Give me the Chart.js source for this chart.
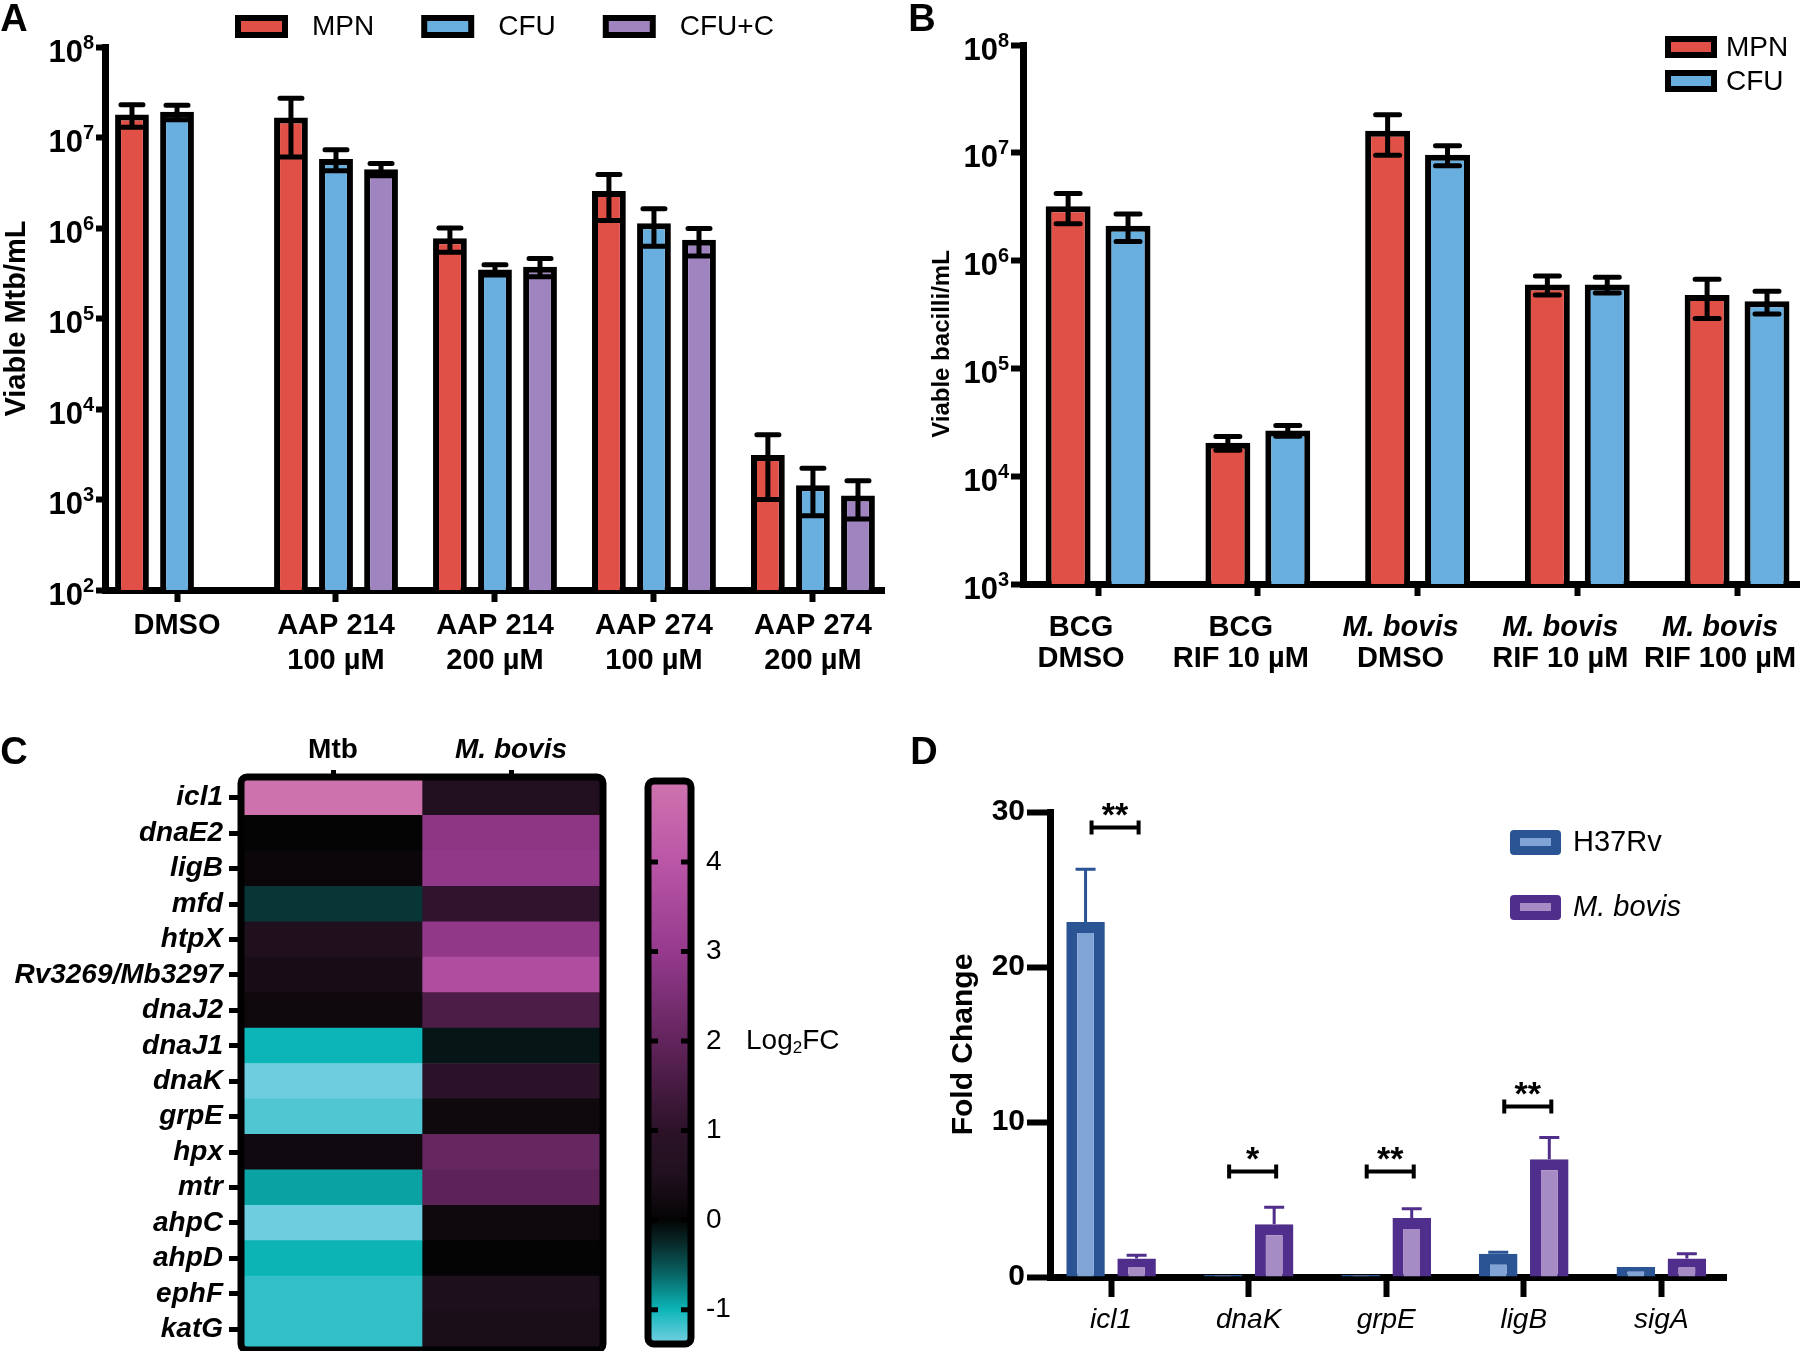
<!DOCTYPE html>
<html>
<head>
<meta charset="utf-8">
<title>Viable bacilli and stress gene expression</title>
<script src="https://cdn.jsdelivr.net/npm/chart.js@4.4.1/dist/chart.umd.min.js"></script>
<style>
  html, body { margin: 0; padding: 0; background: #fff; }
  body { position: relative; width: 1800px; height: 1351px; overflow: hidden; }
  canvas { position: absolute; }
</style>
</head>
<body>
<canvas id="panelA" width="900" height="700" style="left:0;top:0"></canvas>
<canvas id="panelB" width="900" height="700" style="left:900px;top:0"></canvas>
<canvas id="panelC" width="640" height="651" style="left:0;top:700px"></canvas>
<canvas id="panelCbar" width="260" height="651" style="left:640px;top:700px"></canvas>
<canvas id="panelD" width="900" height="651" style="left:900px;top:700px"></canvas>
<script>
const FAMILY = '"Liberation Sans", Arial, Helvetica, sans-serif';

// A: viable Mtb after AAP treatment (log scale)
const aGroups = [['DMSO'], ['AAP 214', '100 µM'], ['AAP 214', '200 µM'], ['AAP 274', '100 µM'], ['AAP 274', '200 µM']];
const aSeries = ['MPN', 'CFU', 'CFU+C'];
const aMPN = [1.8e7, 1.66e7, 7.7e5, 2.56e6, 3.1e3];
const aMPNErr = [5e6, 1.05e7, 2.3e5, 1.35e6, 2.1e3];
const aCFU = [1.92e7, 5.8e6, 3.47e5, 1.13e6, 1.44e3];
const aCFUErr = [3.5e6, 1.5e6, 4.5e4, 5e5, 7.8e2];
const aCFUC = [null, 4.47e6, 3.74e5, 7.4e5, 1.11e3];
const aCFUCErr = [null, 7e5, 8.5e4, 2.5e5, 5e2];
const aTicks = [1e2, 1e3, 1e4, 1e5, 1e6, 1e7, 1e8];

// B: BCG and M. bovis with rifampicin
const bGroups = [['BCG', 'DMSO'], ['BCG', 'RIF 10 µM'], ['M. bovis', 'DMSO'], ['M. bovis', 'RIF 10 µM'], ['M. bovis', 'RIF 100 µM']];
const bSeries = ['MPN', 'CFU'];
const bMPN = [3.2e6, 2.04e4, 1.6e7, 6.0e5, 4.8e5];
const bMPNErr = [1.0e6, 3e3, 6.5e6, 1.2e5, 1.9e5];
const bCFU = [2.1e6, 2.65e4, 9.6e6, 6.0e5, 4.2e5];
const bCFUErr = [6e5, 3e3, 2e6, 1.0e5, 1.0e5];
const bTicks = [1e3, 1e4, 1e5, 1e6, 1e7, 1e8];

// C: heatmap of log2 fold change
const genes = ['icl1', 'dnaE2', 'ligB', 'mfd', 'htpX', 'Rv3269/Mb3297', 'dnaJ2', 'dnaJ1',
               'dnaK', 'grpE', 'hpx', 'mtr', 'ahpC', 'ahpD', 'ephF', 'katG'];
const heatColumns = ['Mtb', 'M. bovis'];
const mtbLog2FC = [4.87, 0.0, 0.1, -0.33, 0.5, 0.35, 0.2, -1.0, -1.35, -1.24, 0.22, -0.9, -1.35, -0.99, -1.14, -1.14];
const bovisLog2FC = [0.58, 2.8, 2.9, 1.07, 2.9, 3.7, 1.6, -0.12, 1.0, 0.2, 2.08, 1.9, 0.2, 0.0, 0.45, 0.4];
const colorTicks = [-1, 0, 1, 2, 3, 4];
const colorStops = [-1.35, -1.0, -0.6, -0.25, 0, 0.5, 1, 2, 3, 4, 4.87];
const colorRamp = ['#6ecdde', '#0cb6b8', '#086464', '#082828', '#040404', '#20101e',
                   '#2c1228', '#62245c', '#963a8e', '#ba56a6', '#ce72ae'];

// D: qPCR fold change
const dGenes = ['icl1', 'dnaK', 'grpE', 'ligB', 'sigA'];
const dSeries = ['H37Rv', 'M. bovis'];
const dH37Rv = [22.9, 0.15, 0.15, 1.5, 0.65];
const dH37RvErr = [3.4, 0, 0, 0.1, 0];
const dBovis = [1.2, 3.4, 3.8, 7.6, 1.2];
const dBovisErr = [0.2, 1.1, 0.6, 1.4, 0.3];
const dSigGene = ['icl1', 'dnaK', 'grpE', 'ligB'];
const dSigLevel = [29.0, 6.8, 6.8, 11.0];
const dSigMark = ['**', '*', '**', '**'];

Chart.defaults.font.family = FAMILY;
Chart.defaults.color = '#000';

const RED = '#e05046', BLUE = '#68aede', PURPLE = '#a084c0';

function font(size, weight, style) {
  return (style || 'normal') + ' ' + (weight || 'normal') + ' ' + size + 'px ' + FAMILY;
}
function isSpecies(s) { return s.indexOf('M. ') === 0; }

function hexRgb(h) { return [1, 3, 5].map(k => parseInt(h.slice(k, k + 2), 16)); }
function colorFor(v) {
  if (v <= colorStops[0]) return colorRamp[0];
  for (let k = 1; k < colorStops.length; k++) {
    if (v <= colorStops[k]) {
      const t = (v - colorStops[k - 1]) / (colorStops[k] - colorStops[k - 1]);
      const a = hexRgb(colorRamp[k - 1]), b = hexRgb(colorRamp[k]);
      return 'rgb(' + a.map((c, j) => Math.round(c + (b[j] - c) * t)).join(',') + ')';
    }
  }
  return colorRamp[colorRamp.length - 1];
}

// error bars from dataset.errors
const errorBars = {
  id: 'errorBars',
  afterDatasetsDraw(chart, args, opts) {
    const { ctx } = chart;
    const y = chart.scales.y;
    chart.data.datasets.forEach((ds, di) => {
      const meta = chart.getDatasetMeta(di);
      if (!ds.errors) return;
      meta.data.forEach((bar, i) => {
        const v = ds.data[i], e = ds.errors[i];
        if (v == null || !e) return;
        const top = y.getPixelForValue(v + e);
        const bottom = y.getPixelForValue(opts.upOnly ? v : v - e);
        ctx.save();
        ctx.strokeStyle = opts.color || ds.borderColor;
        ctx.lineWidth = opts.width;
        ctx.lineCap = opts.round ? 'round' : 'butt';
        ctx.beginPath();
        ctx.moveTo(bar.x, top); ctx.lineTo(bar.x, bottom);
        ctx.moveTo(bar.x - opts.cap / 2, top); ctx.lineTo(bar.x + opts.cap / 2, top);
        if (!opts.upOnly) { ctx.moveTo(bar.x - opts.cap / 2, bottom); ctx.lineTo(bar.x + opts.cap / 2, bottom); }
        ctx.stroke();
        ctx.restore();
      });
    });
  }
};

function drawLetter(ctx, letter, x, y) {
  ctx.save();
  ctx.font = font(38, 'bold');
  ctx.fillStyle = '#000'; ctx.textAlign = 'center'; ctx.textBaseline = 'middle';
  ctx.fillText(letter, x, y);
  ctx.restore();
}

function drawPowers(chart, gap) {
  const { ctx } = chart;
  const s = chart.scales.y;
  const xr = chart.chartArea.left - gap;
  ctx.save();
  ctx.fillStyle = '#000'; ctx.textAlign = 'right'; ctx.textBaseline = 'middle';
  s.ticks.forEach(t => {
    const py = s.getPixelForValue(t.value);
    const exp = String(Math.round(Math.log10(t.value)));
    ctx.font = font(20, 'bold');
    ctx.fillText(exp, xr, py - 4);
    const w = ctx.measureText(exp).width;
    ctx.font = font(31, 'bold');
    ctx.fillText('10', xr - w, py + 6);
  });
  ctx.restore();
}

function drawBoxLegend(chart, o) {
  const { ctx } = chart;
  let x = o.x, y = o.y;
  chart.data.datasets.forEach(ds => {
    ctx.save();
    ctx.fillStyle = ds.backgroundColor;
    ctx.fillRect(x, y, o.w, o.h);
    ctx.strokeStyle = '#000'; ctx.lineWidth = 6;
    ctx.strokeRect(x, y, o.w, o.h);
    ctx.font = font(28);
    ctx.fillStyle = '#000'; ctx.textAlign = 'left'; ctx.textBaseline = 'middle';
    ctx.fillText(ds.label, x + o.w + o.gap, y + o.h / 2 + 1);
    const tw = ctx.measureText(ds.label).width;
    ctx.restore();
    if (o.vertical) y += o.step; else x += o.w + o.gap + tw + o.step;
  });
}

function barDataset(label, data, errors, color) {
  return { label, data, errors, backgroundColor: color, borderColor: '#000', borderWidth: 6,
           categoryPercentage: 0.85, barPercentage: 0.75 };
}

function indexScale(min, max, groups, height, extra) {
  return Object.assign({
    type: 'linear', min, max, offset: false, z: 1,
    afterBuildTicks: s => { s.ticks = groups.map((g, i) => ({ value: i })); },
    grid: { drawOnChartArea: false, offset: false, tickLength: 12, tickWidth: 6, color: '#000' },
    border: { color: '#000', width: 7 },
    afterFit: s => { s.height = height; s.paddingLeft = 0; s.paddingRight = 0; }
  }, extra);
}

// ---------- Panel A
new Chart(document.getElementById('panelA'), {
  type: 'bar',
  data: {
    labels: aGroups.map((g, i) => i),
    datasets: [
      barDataset(aSeries[0], aMPN, aMPNErr, RED),
      barDataset(aSeries[1], aCFU, aCFUErr, BLUE),
      barDataset(aSeries[2], aCFUC, aCFUCErr, PURPLE)
    ]
  },
  options: {
    responsive: false, animation: false,
    layout: { padding: { top: 47, right: 16, left: 0, bottom: 0 } },
    plugins: {
      legend: { display: false }, tooltip: { enabled: false },
      errorBars: { color: '#000', width: 5, cap: 22, round: true }
    },
    scales: {
      x: indexScale(-0.453, 4.447, aGroups, 110, {
        ticks: { callback: (v, i) => aGroups[i], font: { size: 29, weight: 'bold' }, padding: 7, maxRotation: 0, autoSkip: false }
      }),
      y: {
        type: 'logarithmic', min: 1e2, max: 1e8,
        afterBuildTicks: s => { s.ticks = aTicks.map(v => ({ value: v })); },
        ticks: { display: false },
        grid: { drawOnChartArea: false, tickLength: 9, tickWidth: 6, color: '#000' },
        border: { color: '#000', width: 7 },
        title: { display: true, text: 'Viable Mtb/mL', font: { size: 29, weight: 'bold' }, padding: 0 },
        afterFit: s => { s.width = 105; s.paddingTop = 0; s.paddingBottom = 0; }
      }
    }
  },
  plugins: [errorBars, {
    id: 'decorA',
    afterDraw(chart) {
      drawPowers(chart, 11);
      drawBoxLegend(chart, { x: 238, y: 18, w: 47, h: 17, gap: 27, step: 50 });
      drawLetter(chart.ctx, 'A', 14, 21);
    }
  }]
});

// ---------- Panel B
new Chart(document.getElementById('panelB'), {
  type: 'bar',
  data: {
    labels: bGroups.map((g, i) => i),
    datasets: [
      Object.assign(barDataset(bSeries[0], bMPN, bMPNErr, RED), { categoryPercentage: 0.75 }),
      Object.assign(barDataset(bSeries[1], bCFU, bCFUErr, BLUE), { categoryPercentage: 0.75 })
    ]
  },
  options: {
    responsive: false, animation: false,
    layout: { padding: { top: 45, right: 0, left: 0, bottom: 0 } },
    plugins: {
      legend: { display: false }, tooltip: { enabled: false },
      errorBars: { color: '#000', width: 5, cap: 24, round: true }
    },
    scales: {
      x: indexScale(-0.47, 4.394, bGroups, 116, { ticks: { display: false } }),
      y: {
        type: 'logarithmic', min: 1e3, max: 1e8,
        afterBuildTicks: s => { s.ticks = bTicks.map(v => ({ value: v })); },
        ticks: { display: false },
        grid: { drawOnChartArea: false, tickLength: 12, tickWidth: 6, color: '#000' },
        border: { color: '#000', width: 7 },
        afterFit: s => { s.width = 123; s.paddingTop = 0; s.paddingBottom = 0; }
      }
    }
  },
  plugins: [errorBars, {
    id: 'decorB',
    afterDraw(chart) {
      const { ctx } = chart;
      const x = chart.scales.x;
      drawPowers(chart, 14);
      ctx.save();
      ctx.fillStyle = '#000'; ctx.textAlign = 'center'; ctx.textBaseline = 'middle';
      bGroups.forEach((lines, i) => {
        const cx = x.getPixelForValue(i) - 17;
        lines.forEach((line, k) => {
          ctx.font = font(29, 'bold', isSpecies(line) ? 'italic' : 'normal');
          const w = ctx.measureText(line).width;
          ctx.fillText(line, Math.min(cx, chart.width - 3 - w / 2), 628 + k * 31);
        });
      });
      ctx.translate(42, 344);
      ctx.rotate(-Math.PI / 2);
      ctx.font = font(24, 'bold');
      ctx.fillText('Viable bacilli/mL', 0, 0);
      ctx.restore();
      drawBoxLegend(chart, { x: 768, y: 39, w: 46, h: 16, gap: 12, step: 34, vertical: true });
      drawLetter(ctx, 'B', 22, 21);
    }
  }]
});

// ---------- Panel C heatmap (floating bars, one per cell)
const heatValues = [mtbLog2FC, bovisLog2FC];
new Chart(document.getElementById('panelC'), {
  type: 'bar',
  data: {
    labels: genes,
    datasets: heatColumns.map((col, j) => ({
      label: col,
      data: genes.map(() => [j, j + 1]),
      backgroundColor: heatValues[j].map(colorFor),
      borderWidth: 0, grouped: false, categoryPercentage: 1, barPercentage: 1
    }))
  },
  options: {
    indexAxis: 'y', responsive: false, animation: false,
    layout: { padding: { top: 0, right: 40, bottom: 4, left: 0 } },
    plugins: { legend: { display: false }, tooltip: { enabled: false } },
    scales: {
      x: {
        type: 'linear', position: 'top', min: 0, max: heatColumns.length,
        afterBuildTicks: s => { s.ticks = heatColumns.map((c, j) => ({ value: j + 0.5 })); },
        ticks: {
          callback: (v, i) => heatColumns[i], padding: 3,
          font: c => ({ family: FAMILY, size: 28, weight: 'bold', style: isSpecies(heatColumns[c.index] || '') ? 'italic' : 'normal' })
        },
        grid: { drawOnChartArea: false, tickLength: 10, tickWidth: 5, color: '#000' },
        border: { display: false },
        afterFit: s => { s.height = 80; s.paddingLeft = 0; s.paddingRight = 0; }
      },
      y: {
        ticks: { font: { size: 28, weight: 'bold', style: 'italic' }, padding: 6, autoSkip: false },
        grid: { drawOnChartArea: false, offset: false, tickLength: 15, tickWidth: 5, color: '#000' },
        border: { display: false },
        afterFit: s => { s.width = 244; s.paddingTop = 0; s.paddingBottom = 0; }
      }
    }
  },
  plugins: [{
    id: 'heatFrame',
    afterDraw(chart) {
      const { ctx, chartArea: a } = chart;
      ctx.save();
      ctx.strokeStyle = '#000'; ctx.lineWidth = 7;
      ctx.beginPath();
      ctx.roundRect(a.left - 3, a.top - 3, a.right - a.left + 6, a.bottom - a.top + 6, 6);
      ctx.stroke();
      ctx.restore();
      drawLetter(ctx, 'C', 14, 54);
    }
  }]
});

// ---------- Panel C colour scale
const cbMin = colorStops[0], cbMax = colorStops[colorStops.length - 1];
new Chart(document.getElementById('panelCbar'), {
  type: 'bar',
  data: {
    labels: ['Log2FC'],
    datasets: [{
      data: [[cbMin, cbMax]],
      backgroundColor: c => {
        const chart = c.chart;
        if (!chart.chartArea) return '#000';
        const y = chart.scales.y;
        const g = chart.ctx.createLinearGradient(0, y.getPixelForValue(cbMin), 0, y.getPixelForValue(cbMax));
        colorStops.forEach((v, k) => g.addColorStop((v - cbMin) / (cbMax - cbMin), colorRamp[k]));
        return g;
      },
      borderWidth: 0, categoryPercentage: 1, barPercentage: 1
    }]
  },
  options: {
    responsive: false, animation: false,
    layout: { padding: { top: 84, right: 0, bottom: 10, left: 11 } },
    plugins: { legend: { display: false }, tooltip: { enabled: false } },
    scales: {
      x: { display: false },
      y: {
        position: 'right', min: cbMin, max: cbMax,
        afterBuildTicks: s => { s.ticks = colorTicks.map(v => ({ value: v })); },
        ticks: { callback: v => String(v), font: { size: 28 }, padding: 18 },
        grid: { display: false, drawTicks: false },
        border: { display: false },
        afterFit: s => { s.width = 212; s.paddingTop = 0; s.paddingBottom = 0; }
      }
    }
  },
  plugins: [{
    id: 'barFrame',
    afterDraw(chart) {
      const { ctx, chartArea: a } = chart;
      const y = chart.scales.y;
      ctx.save();
      ctx.strokeStyle = '#000'; ctx.lineWidth = 5;
      colorTicks.forEach(v => {
        const py = y.getPixelForValue(v);
        ctx.beginPath();
        ctx.moveTo(a.left, py); ctx.lineTo(a.left + 7, py);
        ctx.moveTo(a.right - 7, py); ctx.lineTo(a.right, py);
        ctx.stroke();
      });
      ctx.lineWidth = 7;
      ctx.beginPath();
      ctx.roundRect(a.left - 3, a.top - 3, a.right - a.left + 6, a.bottom - a.top + 6, 6);
      ctx.stroke();
      const py = y.getPixelForValue(2);
      let x = 106;
      ctx.fillStyle = '#000'; ctx.textAlign = 'left'; ctx.textBaseline = 'middle';
      ctx.font = font(28);
      ctx.fillText('Log', x, py); x += ctx.measureText('Log').width;
      ctx.font = font(17);
      ctx.fillText('2', x, py + 7); x += ctx.measureText('2').width;
      ctx.font = font(28);
      ctx.fillText('FC', x, py);
      ctx.restore();
    }
  }]
});

// ---------- Panel D
const dStyle = [
  { borderColor: '#2a5494', backgroundColor: '#80a4d6' },
  { borderColor: '#502e8c', backgroundColor: '#a68cc4' }
];
new Chart(document.getElementById('panelD'), {
  type: 'bar',
  data: {
    labels: dGenes.map((g, i) => i),
    datasets: [
      Object.assign({ label: dSeries[0], data: dH37Rv, errors: dH37RvErr }, dStyle[0]),
      Object.assign({ label: dSeries[1], data: dBovis, errors: dBovisErr }, dStyle[1])
    ].map(ds => Object.assign(ds, { borderWidth: 11, categoryPercentage: 0.742, barPercentage: 0.755 }))
  },
  options: {
    responsive: false, animation: false,
    layout: { padding: { top: 112, right: 74, left: 0, bottom: 0 } },
    plugins: {
      legend: { display: false }, tooltip: { enabled: false },
      errorBars: { width: 3, cap: 20, upOnly: true }
    },
    scales: {
      x: indexScale(-0.444, 4.47, dGenes, 74, {
        grid: { drawOnChartArea: false, offset: false, tickLength: 20, tickWidth: 6, color: '#000' },
        ticks: { callback: (v, i) => dGenes[i], font: { size: 28, style: 'italic' }, padding: 6, maxRotation: 0, autoSkip: false }
      }),
      y: {
        min: 0, max: 30,
        ticks: { stepSize: 10, font: { size: 30, weight: 'bold' }, padding: 2 },
        grid: { drawOnChartArea: false, tickLength: 23, tickWidth: 6, color: '#000' },
        border: { color: '#000', width: 7 },
        title: { display: true, text: 'Fold Change', font: { size: 30, weight: 'bold' }, padding: { top: 46, bottom: 0 } },
        afterFit: s => { s.width = 150; s.paddingTop = 0; s.paddingBottom = 0; }
      }
    }
  },
  plugins: [errorBars, {
    id: 'decorD',
    afterDatasetsDraw(chart) {
      const { ctx } = chart;
      const y = chart.scales.y;
      const m0 = chart.getDatasetMeta(0), m1 = chart.getDatasetMeta(1);
      ctx.save();
      ctx.strokeStyle = '#000'; ctx.fillStyle = '#000'; ctx.lineWidth = 4;
      dSigGene.forEach((g, k) => {
        const i = dGenes.indexOf(g);
        const x0 = m0.data[i].x + 6, x1 = m1.data[i].x + 2;
        const py = y.getPixelForValue(dSigLevel[k]);
        ctx.beginPath();
        ctx.moveTo(x0, py); ctx.lineTo(x1, py);
        ctx.moveTo(x0, py - 7); ctx.lineTo(x0, py + 7);
        ctx.moveTo(x1, py - 7); ctx.lineTo(x1, py + 7);
        ctx.stroke();
        ctx.font = font(34, 'bold');
        ctx.textAlign = 'center'; ctx.textBaseline = 'alphabetic';
        ctx.fillText(dSigMark[k], (x0 + x1) / 2, py - 2);
      });
      ctx.restore();
    },
    afterDraw(chart) {
      const { ctx } = chart;
      chart.data.datasets.forEach((ds, i) => {
        const cy = 142 + i * 65, x = 610;
        ctx.save();
        ctx.fillStyle = ds.borderColor;
        ctx.beginPath(); ctx.roundRect(x, cy - 12, 51, 25, 4); ctx.fill();
        ctx.fillStyle = ds.backgroundColor;
        ctx.fillRect(x + 10, cy - 4, 31, 8);
        ctx.font = font(29, 'normal', isSpecies(ds.label) ? 'italic' : 'normal');
        ctx.fillStyle = '#000'; ctx.textAlign = 'left'; ctx.textBaseline = 'middle';
        ctx.fillText(ds.label, x + 63, cy + 1);
        ctx.restore();
      });
      drawLetter(ctx, 'D', 24, 54);
    }
  }]
});
</script>
</body>
</html>
